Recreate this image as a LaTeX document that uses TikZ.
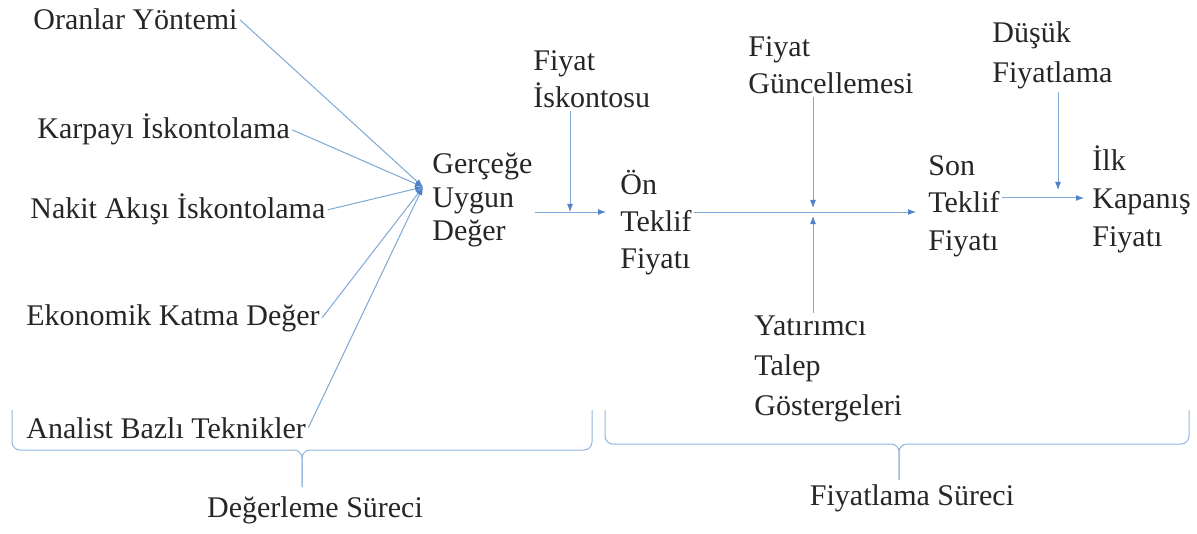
\documentclass[tikz,border=0pt]{standalone}
\usepackage{fontspec}
\setmainfont{Liberation Serif}
\usetikzlibrary{arrows.meta,positioning}
\definecolor{linkblue}{RGB}{125,168,215}
\definecolor{tipblue}{RGB}{80,130,200}

\begin{document}
\begin{tikzpicture}[x=0.5pt,y=-0.5pt,
	txt/.style={anchor=base west, inner sep=1pt, align=left, font=\fontsize{15}{18.5}\selectfont, text=black!85},
	link/.style={draw=linkblue, line width=0.5pt},
	bracket/.style={draw=linkblue!85, line width=0.5pt, rounded corners=4pt},
	>={Latex[length=4pt,width=3pt,color=tipblue]}]
	\useasboundingbox (0,0) rectangle (1197,534);
	% valuation methods
	\node[txt] (oy)  at (31,30)  {Oranlar Yöntemi};
	\node[txt] (ki)  at (35,139) {Karpayı İskontolama};
	\node[txt] (nai) at (28,219) {Nakit Akışı İskontolama};
	\node[txt] (ekd) at (24,325) {Ekonomik Katma Değer};
	\node[txt] (abt) at (24,438) {Analist Bazlı Teknikler};
	\coordinate (conv) at (423,187);
	\foreach \m in {oy,ki,nai,ekd,abt}
		\draw[link,->] (\m.east) -- (conv);
	% price chain (base = last line)
	\node[txt, font=\fontsize{15}{16.5}\selectfont] (gud) at (430,240) {Gerçeğe\\Uygun\\Değer};
	\node[txt] (fis) at (531,108)  {Fiyat\\İskontosu};
	\node[txt, font=\fontsize{15}{18.25}\selectfont] (onf) at (618,268) {Ön\\Teklif\\Fiyatı};
	\node[txt] (fgu) at (746,94)   {Fiyat\\Güncellemesi};
	\node[txt, font=\fontsize{15}{20}\selectfont] (ytg) at (752,415) {Yatırımcı\\Talep\\Göstergeleri};
	\node[txt, font=\fontsize{15}{18.75}\selectfont] (son) at (926,250) {Son\\Teklif\\Fiyatı};
	\node[txt, font=\fontsize{15}{20}\selectfont] (dsf) at (990,83)   {Düşük\\Fiyatlama};
	\node[txt, font=\fontsize{15}{18.75}\selectfont] (ilk) at (1090,246) {İlk\\Kapanış\\Fiyatı};
	\coordinate (j1) at (570,212);
	\coordinate (j2) at (813,212);
	\coordinate (j3) at (1058,198);
	\draw[link,->,shorten >=6pt] (gud.east |- j1) -- (onf.west |- j1);
	\draw[link,->] (fis.south -| j1) -- (j1);
	\draw[link,->,shorten >=5pt] (onf.east |- j2) -- (son.west |- j2);
	\draw[link,->,shorten >=2pt] (fgu.south -| j2) -- (j2);
	\draw[link,->,shorten >=2pt] (ytg.north -| j2) -- (j2);
	\draw[link,->,shorten >=3pt] (son.east |- j3) -- (ilk.west |- j3);
	\draw[link,->,shorten >=4pt] (dsf.south -| j3) -- (j3);
	% process brackets
	\draw[bracket] (12,410) |- (302,450) -- (302,487);
	\draw[bracket] (592,410) |- (302,450) -- (302,487);
	\draw[bracket] (605,410) |- (899,444) -- (899,480);
	\draw[bracket] (1189,410) |- (899,444) -- (899,480);
	\node[txt, anchor=base] (ds) at (315,517) {Değerleme Süreci};
	\node[txt, anchor=base] (fs) at (912,505) {Fiyatlama Süreci};
\end{tikzpicture}
\end{document}
